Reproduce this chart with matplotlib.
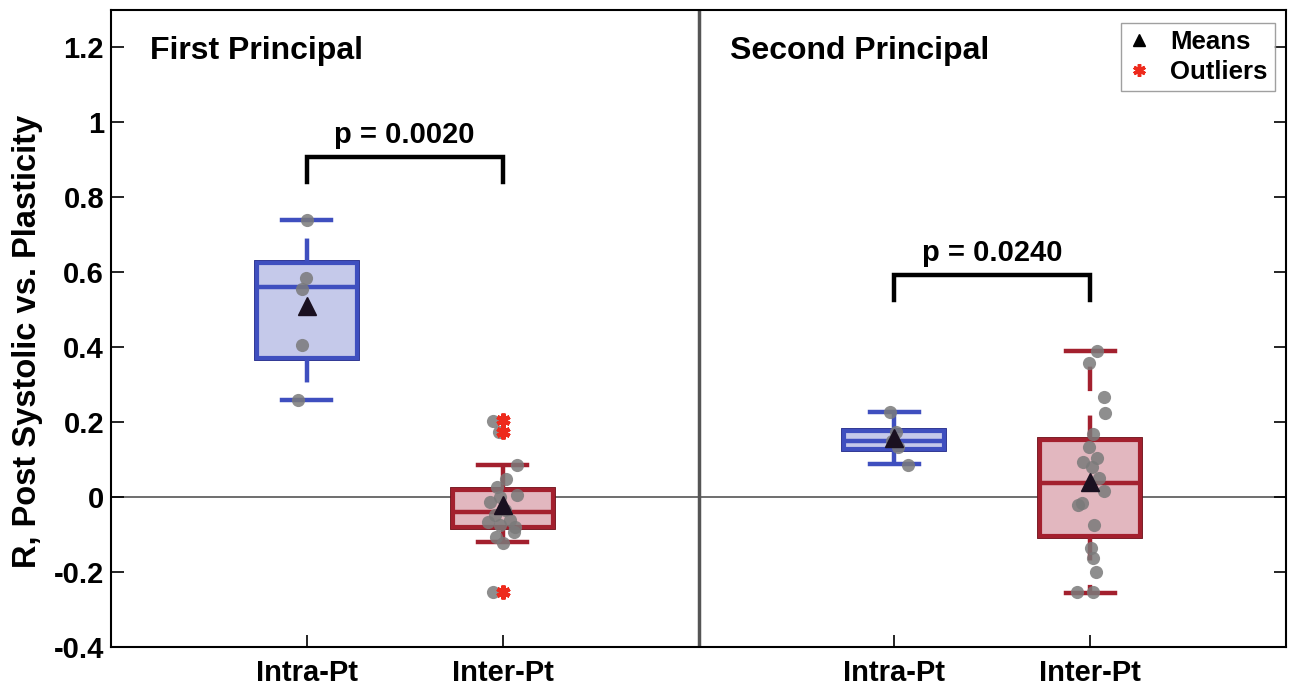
import matplotlib.pyplot as plt
import matplotlib.patheffects as pe
from matplotlib.lines import Line2D

plt.rcParams['font.family'] = ['Liberation Sans', 'DejaVu Sans']
plt.rcParams['font.weight'] = 'bold'

# categories / layout of the two panels
group_labels = ['Intra-Pt', 'Inter-Pt', 'Intra-Pt', 'Inter-Pt']
group_pos = [1, 2, 4, 5]
panel_titles = ['First Principal', 'Second Principal']

# box statistics
q1 = [0.37, -0.08, 0.128, -0.104]
med = [0.56, -0.04, 0.15, 0.037]
q3 = [0.625, 0.02, 0.177, 0.153]
whislo = [0.26, -0.12, 0.088, -0.255]
whishi = [0.74, 0.085, 0.228, 0.39]
means = [0.509, -0.021, 0.158, 0.040]

# individual correlations (value, x jitter)
vals_1 = [0.74, 0.585, 0.555, 0.405, 0.26]
jit_1 = [0.0, -0.005, -0.026, -0.026, -0.046]
vals_2 = [0.204, 0.174, 0.086, 0.048, 0.027, 0.005, 0.0, -0.013, -0.035,
          -0.048, -0.061, -0.067, -0.075, -0.08, -0.107, -0.094, -0.123, -0.254]
jit_2 = [-0.051, -0.02, 0.071, 0.015, -0.031, 0.071, -0.015, -0.066, 0.01,
         -0.041, 0.036, -0.077, -0.015, 0.061, -0.036, 0.056, 0.0, -0.051]
vals_3 = [0.228, 0.175, 0.15, 0.135, 0.085]
jit_3 = [-0.02, 0.01, -0.01, 0.02, 0.07]
vals_4 = [0.39, 0.358, 0.268, 0.225, 0.169, 0.134, 0.094, 0.104, 0.08, 0.05,
          0.016, -0.02, -0.016, -0.075, -0.137, -0.163, -0.2, -0.254, -0.254]
jit_4 = [0.036, -0.005, 0.071, 0.077, 0.015, -0.005, -0.036, 0.036, 0.01, 0.046,
         0.071, -0.061, -0.041, 0.02, 0.005, 0.015, 0.031, -0.066, 0.015]

# outliers (only in first panel, Inter-Pt)
outlier_vals = [0.206, 0.174, -0.254]

# significance brackets
p_labels = ['p = 0.0020', 'p = 0.0240']
p_heights = [0.907, 0.593]
p_pairs = [(1, 2), (4, 5)]

edge_cols = ['#3f4fbf', '#a3202e', '#3f4fbf', '#a3202e']
dark_cols = ['#23298a', '#6e1019', '#23298a', '#6e1019']
fill_cols = ['#c5c9ea', '#e2b7bf', '#c5c9ea', '#e2b7bf']

fig = plt.figure(figsize=(12.89, 6.88), dpi=100)
ax = fig.add_axes([0.0861, 0.0596, 0.9116, 0.9259])

all_vals = [vals_1, vals_2, vals_3, vals_4]
all_jit = [jit_1, jit_2, jit_3, jit_4]

ax.axhline(0, color='#555555', lw=1.2, zorder=1)
ax.axvline(3, color='#555555', lw=2.5, zorder=1)

for i in range(4):
    stats = [dict(q1=q1[i], med=med[i], q3=q3[i], whislo=whislo[i],
                  whishi=whishi[i], mean=means[i], fliers=[])]
    outline = [pe.Stroke(linewidth=4.2, foreground=dark_cols[i]), pe.Normal()]
    bp = ax.bxp(stats, positions=[group_pos[i]], widths=0.51, patch_artist=True,
                showfliers=False, showmeans=False, capwidths=0.25,
                boxprops=dict(facecolor=fill_cols[i], edgecolor=edge_cols[i], linewidth=3),
                whiskerprops=dict(color=edge_cols[i], linewidth=3.2, linestyle=(0, (5.5, 5.5))),
                capprops=dict(color=edge_cols[i], linewidth=3.2),
                medianprops=dict(color=edge_cols[i], linewidth=3.2), manage_ticks=False)
    for b in bp['boxes']:
        b.set_path_effects(outline)
        b.set_zorder(2)
    for key in ['whiskers', 'caps', 'medians']:
        for ln in bp[key]:
            ln.set_zorder(2)
    xs = [group_pos[i] + j for j in all_jit[i]]
    ax.scatter(xs, all_vals[i], s=90, color='#7a7a7a', alpha=0.85, lw=0, zorder=3)
    ax.plot(group_pos[i], means[i], marker='^', color='#1a1020', markersize=13,
            linestyle='none', zorder=5)

ax.plot([2] * len(outlier_vals), outlier_vals, linestyle='none', marker=(6, 2, 0),
        color='#ee2a1c', markersize=10, mew=3, zorder=4)

for (a, b), h, lab in zip(p_pairs, p_heights, p_labels):
    ax.plot([a, a, b, b], [h - 0.067, h, h, h - 0.067], color='black', lw=3.2,
            solid_joinstyle='miter', zorder=4)
    ax.text((a + b) / 2, h + 0.022, lab, ha='center', va='bottom', fontsize=21,
            fontweight='bold')

ax.text(0.2, 1.19, panel_titles[0], ha='left', va='center', fontsize=23, fontweight='bold')
ax.text(3.16, 1.19, panel_titles[1], ha='left', va='center', fontsize=23, fontweight='bold')

ax.set_xlim(0, 6)
ax.set_ylim(-0.4, 1.3)
ax.set_xticks(group_pos)
ax.set_xticklabels(group_labels)
ax.set_yticks([-0.4, -0.2, 0, 0.2, 0.4, 0.6, 0.8, 1, 1.2])
ax.set_yticklabels(['-0.4', '-0.2', '0', '0.2', '0.4', '0.6', '0.8', '1', '1.2'])
ax.tick_params(axis='both', direction='in', length=9, width=1.2, labelsize=21)
ax.tick_params(axis='y', right=True, pad=5)
ax.tick_params(axis='x', pad=9)
ax.set_ylabel('R, Post Systolic vs. Plasticity', fontsize=23.5, fontweight='bold')
ax.yaxis.set_label_coords(-0.058, 0.479)
for s in ax.spines.values():
    s.set_linewidth(1.5)

handles = [Line2D([], [], marker='^', color='black', linestyle='none', markersize=8),
           Line2D([], [], marker=(6, 2, 0), color='#ee2a1c', linestyle='none',
                  markersize=9, mew=2.5)]
leg = ax.legend(handles, ['Means', 'Outliers'], loc='upper right',
                bbox_to_anchor=(0.9906, 0.98), borderaxespad=0, fontsize=18.5, frameon=True,
                fancybox=False, handlelength=0.8, handletextpad=0.8, borderpad=0.3,
                labelspacing=0.2)
leg.get_frame().set_edgecolor('#888888')
leg.get_frame().set_linewidth(1.0)

fig.savefig('out.png', dpi=100)
